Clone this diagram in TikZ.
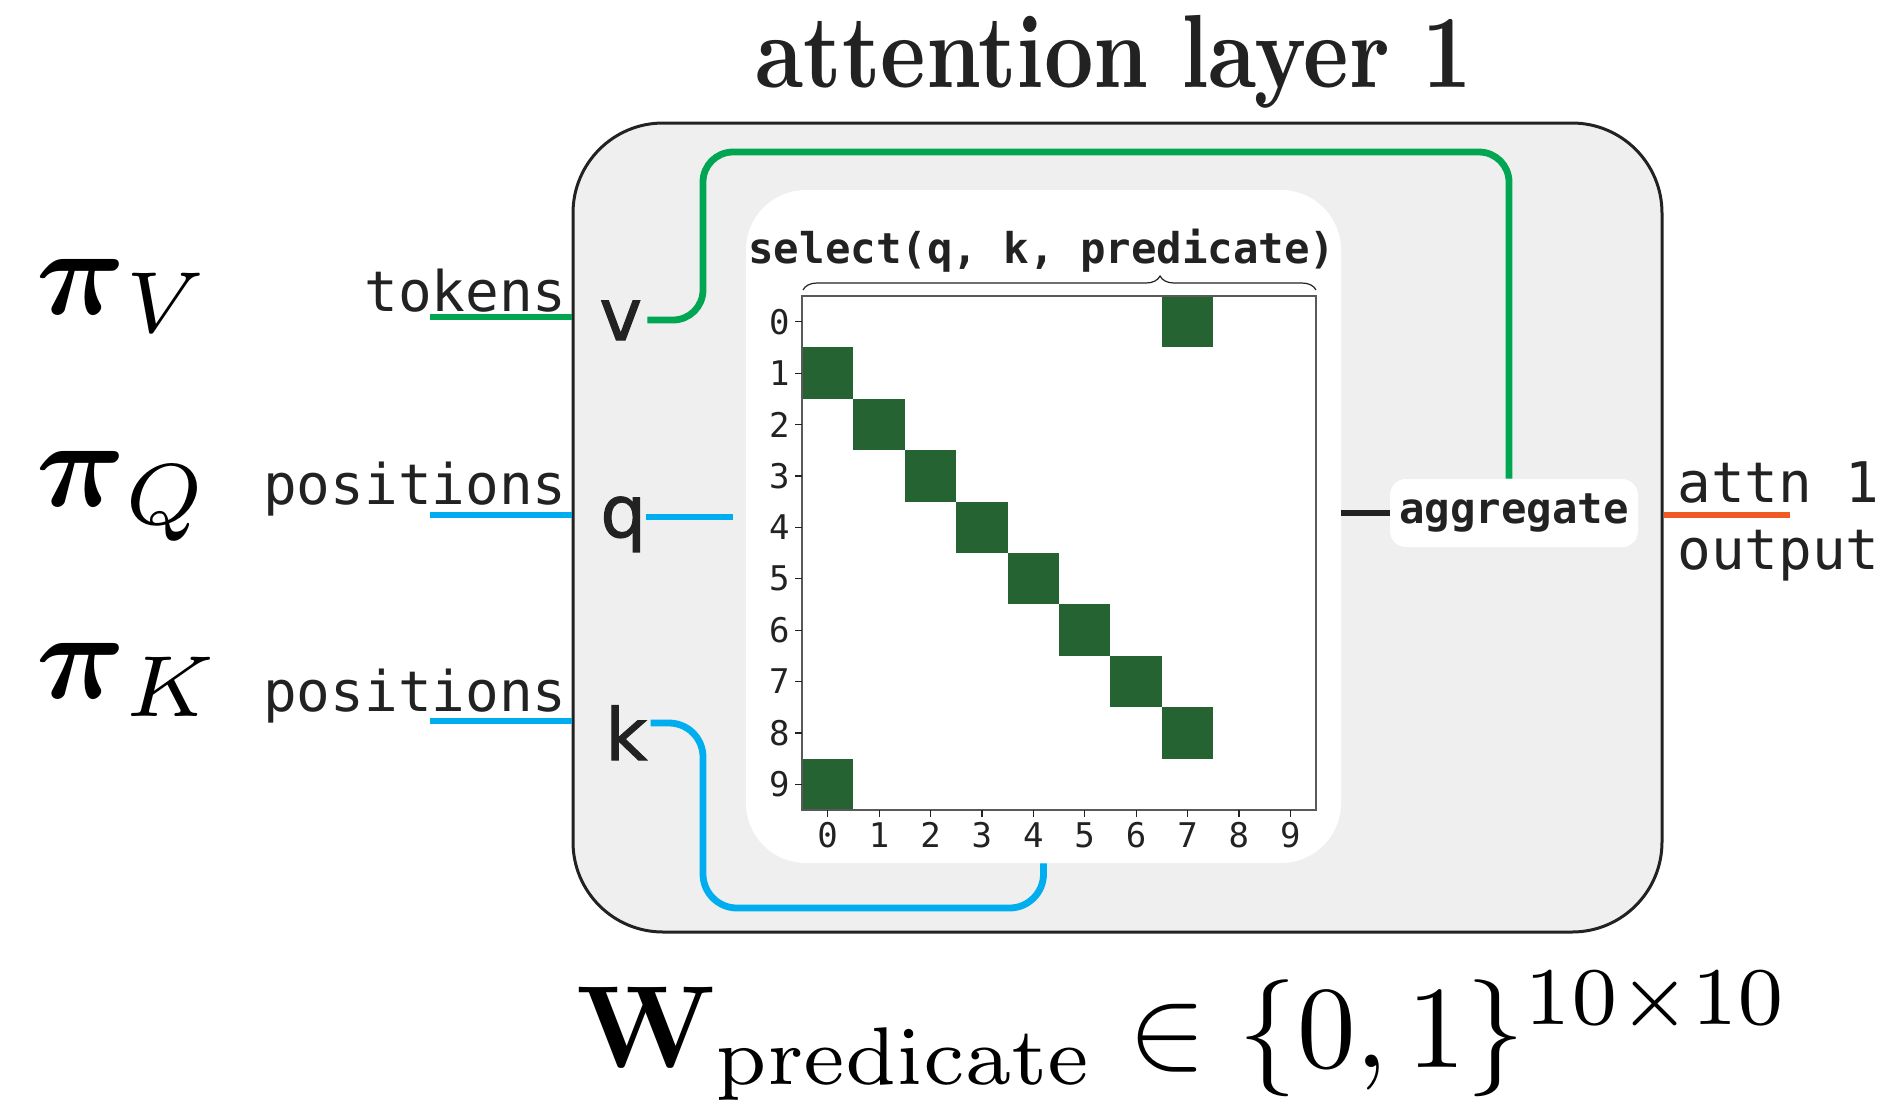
\documentclass[tikz,border=0pt]{standalone}
\usepackage{amsmath}
\usepackage[no-math]{fontspec}
\usepackage{graphicx}
\usetikzlibrary{decorations.pathreplacing}
\newfontfamily\dmono{DejaVu Sans Mono}
\newfontfamily\dsans[FakeBold=1.5]{DejaVu Sans}
\definecolor{lgreen}{RGB}{0,166,81}
\definecolor{lblue}{RGB}{0,174,239}
\definecolor{lorange}{RGB}{241,90,36}
\definecolor{cellg}{RGB}{38,99,50}
\definecolor{boxgray}{RGB}{239,239,239}
\definecolor{ink}{RGB}{34,34,34}
\begin{document}
\begin{tikzpicture}[x=0.5pt,y=-0.5pt,
  monolbl/.style={font=\fontsize{28}{30}\selectfont\dmono, text=ink, inner sep=0},
  boldmono/.style={font=\fontsize{21.2}{24}\selectfont\dmono\bfseries, text=ink},
  ticklbl/.style={font=\fontsize{17}{19}\selectfont\dmono, text=ink, inner sep=0},
  vqk/.style={font=\fontsize{36}{40}\selectfont\dsans, text=ink, inner ysep=0, inner xsep=4pt, text height=20pt, text depth=0pt, anchor=base west},
  gline/.style={draw=lgreen, line width=3.4pt},
  bline/.style={draw=lblue, line width=3.4pt},
  oline/.style={draw=lorange, line width=3.4pt},
  kline/.style={draw=ink, line width=3.4pt}]
\useasboundingbox (0,0) rectangle (1891,1105);

% title
\node[anchor=base, inner sep=0, text=ink] (title) at (1114,87)
  {\scalebox{4.3}[5.2]{\fontsize{10}{12}\selectfont\bfseries attention layer 1}};

% outer box and inner panel
\node[draw=ink, line width=1.5pt, fill=boxgray, rounded corners=45pt,
  minimum width=544.5pt, minimum height=404.5pt, inner sep=0] (layer) at (1117.5,527.5) {};
\node[fill=white, rounded corners=30pt, minimum width=297.5pt, minimum height=336.5pt,
  inner sep=0] (panel) at (1043.5,526.5) {};

% matrix
\foreach \r/\c in {0/7,1/0,2/1,3/2,4/3,5/4,6/5,7/6,8/7,9/0}
  \fill[cellg] (802+51.4*\c, 296+51.4*\r) rectangle ++(51.4,51.4);
\draw[black!65, line width=0.8pt] (802,296) rectangle (1316,810);
\foreach \i in {0,...,9} {
  \draw[ink, line width=0.6pt] (795, 321.7+51.4*\i) -- (802, 321.7+51.4*\i);
  \node[ticklbl, anchor=east] (yl\i) at (790, 321.7+51.4*\i) {\i};
  \draw[ink, line width=0.6pt] (827.7+51.4*\i, 810) -- (827.7+51.4*\i, 817);
  \node[ticklbl, anchor=north] (xl\i) at (827.7+51.4*\i, 822) {\i};
}
\draw[ink, line width=0.6pt, decorate, decoration={brace, amplitude=7pt, aspect=0.696}]
  (803,290) -- (1316,290);
\node[boldmono, anchor=base, inner sep=0] (sel) at (1042,263) {select(q, k, predicate)};

% aggregate
\node[boldmono, fill=white, rounded corners=8pt, minimum width=124pt, minimum height=34pt,
  inner sep=0] (agg) at (1514,513) {aggregate};

% v q k
\node[vqk] (v) at (591,340) {v};
\node[vqk] (q) at (592,537) {q};
\node[vqk] (k) at (597,760) {k};

% left labels
\node[monolbl, anchor=base east] (tok) at (567,311) {tokens};
\node[monolbl, anchor=base east] (posq) at (567,504) {positions};
\node[monolbl, anchor=base east] (posk) at (567,711) {positions};
\coordinate (ul1) at (430,317);
\coordinate (ul2) at (430,515);
\coordinate (ul3) at (430,721);
\draw[gline] (ul1) -- (ul1 -| layer.west);
\draw[bline] (ul2) -- (ul2 -| layer.west);
\draw[bline] (ul3) -- (ul3 -| layer.west);

% pi labels
\node[anchor=base west, inner sep=0] (piV) at (36,314) {\scalebox{6.2}{$\boldsymbol{\pi}_V$}};
\node[anchor=base west, inner sep=0] (piQ) at (36,506) {\scalebox{6.2}{$\boldsymbol{\pi}_Q$}};
\node[anchor=base west, inner sep=0] (piK) at (36,698) {\scalebox{6.2}{$\boldsymbol{\pi}_K$}};

% connectors
\draw[gline, rounded corners=15pt] ([xshift=-1.5pt]v.east) -| (703,152) -| ([xshift=-2.5pt]agg.north);
\draw[bline, shorten >=6.5pt] ([xshift=-4.5pt]q.east) -- (q.east -| panel.west);
\draw[bline, rounded corners=17pt] ([xshift=-2.5pt,yshift=8.5pt]k.east) -| (703,908) -| (panel.south);
\draw[kline] (panel.east |- agg.west) -- (agg.west);

% output
\node[monolbl, anchor=base west] (attn) at (1677,502) {attn 1};
\node[monolbl, anchor=base west] (outp) at (1677,569) {output};
\coordinate (oend) at (1790,515);
\draw[oline] (layer.east |- oend) -- (oend);

% formula
\node[anchor=base west, inner sep=0] (wf) at (576,1067)
  {\scalebox{5.85}{$\mathbf{W}_{\mathrm{predicate}}\in\{0,1\}^{10\times10}$}};
\end{tikzpicture}
\end{document}
